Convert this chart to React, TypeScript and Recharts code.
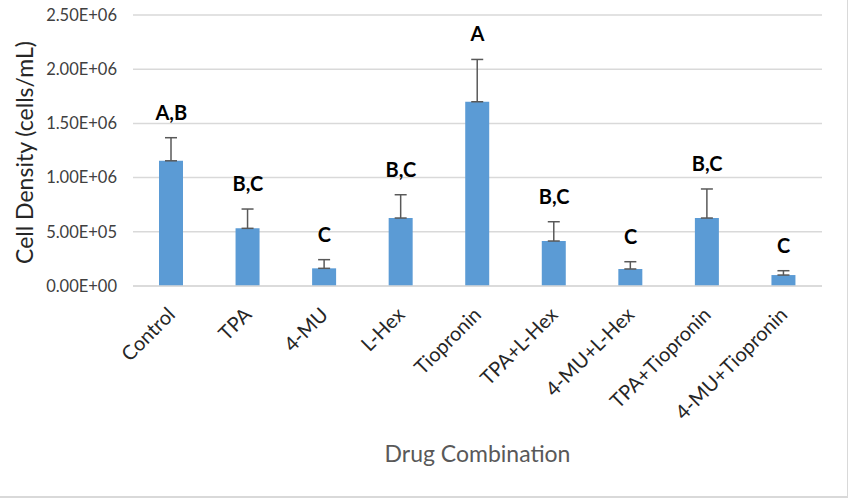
import React from 'react';
import { ComposedChart, Bar, Line, XAxis, YAxis, CartesianGrid, ErrorBar, LabelList, Label } from 'recharts';

const categories = ['Control', 'TPA', '4-MU', 'L-Hex', 'Tiopronin', 'TPA+L-Hex', '4-MU+L-Hex', 'TPA+Tiopronin', '4-MU+Tiopronin'];
const means = [1.155e6, 0.532e6, 0.163e6, 0.627e6, 1.7e6, 0.415e6, 0.157e6, 0.627e6, 0.101e6];
const errors = [0.213e6, 0.178e6, 0.08e6, 0.215e6, 0.39e6, 0.178e6, 0.067e6, 0.268e6, 0.04e6];
const letters = ['A,B', 'B,C', 'C', 'B,C', 'A', 'B,C', 'C', 'B,C', 'C'];
const yTicks = [0, 5e5, 1e6, 1.5e6, 2e6, 2.5e6];

const data = categories.map((name, i) => ({
  name,
  mean: means[i],
  err: [0, errors[i]],
  top: means[i] + errors[i],
  letter: letters[i],
}));

const FONT = 'Lato, "Open Sans", sans-serif';

const fmtSci = (v: number) => {
  const [m, e] = v.toExponential(2).split('e');
  const n = parseInt(e, 10);
  return `${m}E${n < 0 ? '-' : '+'}${String(Math.abs(n)).padStart(2, '0')}`;
};

const XTick = (props: any) => {
  const { x, y, payload } = props;
  return (
    <g transform={`translate(${x + 5},${y + 22})`}>
      <text x={0} y={0} textAnchor="end" transform="rotate(-45)" fontSize={20} fill="#262626" fontFamily={FONT}>
        {payload.value}
      </text>
    </g>
  );
};

const LetterLabel = (props: any) => {
  const { x, y, value } = props;
  return (
    <text x={x} y={y - 18} textAnchor="middle" fontSize={20} fontWeight="bold" fill="#000" fontFamily={FONT}>
      {value}
    </text>
  );
};

const App: React.FC = () => {
  return (
    <div style={{ position: 'absolute', left: 0, top: 0, width: 849, height: 499, background: '#fff' }}>
      <ComposedChart width={849} height={499} data={data} margin={{ top: 15, right: 27, left: 0, bottom: 0 }}>
        <CartesianGrid horizontal vertical={false} stroke="#d9d9d9" strokeWidth={1.5} />
        <XAxis
          dataKey="name"
          height={213}
          interval={0}
          tickLine={false}
          axisLine={{ stroke: '#d9d9d9', strokeWidth: 1.5 }}
          tick={<XTick />}
        >
          <Label
            content={(p: any) => (
              <text
                x={p.viewBox.x + p.viewBox.width / 2}
                y={p.viewBox.y + 167}
                textAnchor="middle"
                dominantBaseline="central"
                fontSize={23}
                fill="#595959"
                fontFamily={FONT}
              >
                Drug Combination
              </text>
            )}
          />
        </XAxis>
        <YAxis
          width={133}
          domain={[0, 2.5e6]}
          ticks={yTicks}
          tickFormatter={fmtSci}
          axisLine={false}
          tickLine={false}
          tickSize={0}
          tickMargin={16}
          tick={{ fontSize: 16.5, fill: '#404040', fontFamily: FONT }}
        >
          <Label
            content={(p: any) => (
              <text
                x={24}
                y={p.viewBox.y + p.viewBox.height / 2 + 2}
                textAnchor="middle"
                dominantBaseline="central"
                transform={`rotate(-90, 24, ${p.viewBox.y + p.viewBox.height / 2 + 2})`}
                fontSize={23}
                fill="#262626"
                fontFamily={FONT}
              >
                Cell Density (cells/mL)
              </text>
            )}
          />
        </YAxis>
        <Bar dataKey="mean" fill="#5b9bd5" barSize={24} isAnimationActive={false}>
          <ErrorBar dataKey="err" direction="y" width={6} stroke="#595959" strokeWidth={1.5} isAnimationActive={false} />
        </Bar>
        <Line dataKey="top" stroke="none" dot={false} activeDot={false} isAnimationActive={false}>
          <LabelList dataKey="letter" content={<LetterLabel />} />
        </Line>
      </ComposedChart>
      <div
        style={{
          position: 'absolute',
          left: 0,
          top: 0,
          width: 847,
          height: 496,
          borderRight: '1px solid #d9d9d9',
          borderBottom: '2px solid #d9d9d9',
          pointerEvents: 'none',
        }}
      />
    </div>
  );
};

export default App;
